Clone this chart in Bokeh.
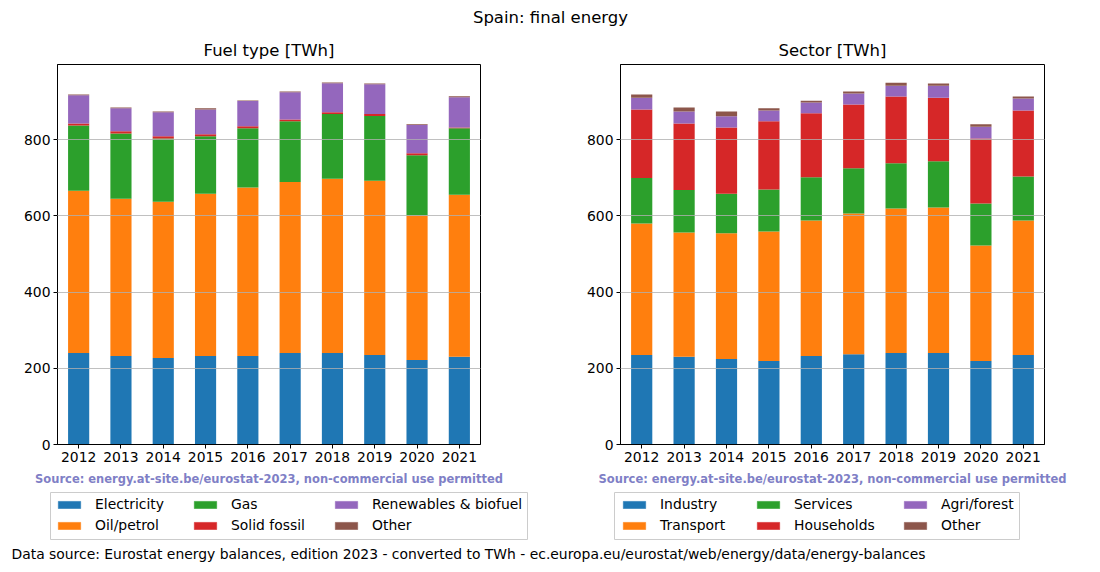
from bokeh.plotting import figure
from bokeh.models import (ColumnDataSource, FactorRange, Range1d, FixedTicker, Legend,
                          LegendItem, Label)
from bokeh.layouts import column, row
from bokeh.embed import file_html
from bokeh.resources import INLINE

years = ["2012", "2013", "2014", "2015", "2016", "2017", "2018", "2019", "2020", "2021"]

# Fuel type [TWh]
fuel_names = ["Electricity", "Oil/petrol", "Gas", "Solid fossil", "Renewables & biofuel", "Other"]
electricity = [240, 232, 227, 232, 232, 240, 240, 235, 222, 230]
oil_petrol = [426, 413, 410, 426, 442, 449, 457, 457, 379, 425]
gas = [171, 171, 166, 151, 156, 159, 170, 170, 158, 175]
solid_fossil = [5.5, 6, 6, 5, 5, 5, 5, 5, 5, 2]
renewables = [73.5, 60, 63, 65, 66, 71, 76, 78, 74, 79]
fuel_other = [2, 2, 2, 3, 1.5, 2, 1.5, 2, 2, 3]

# Sector [TWh]
sector_names = ["Industry", "Transport", "Services", "Households", "Agri/forest", "Other"]
industry = [235, 230, 224, 219, 232, 237, 240, 240, 219, 235]
transport = [345, 326, 330, 340, 356, 369, 379, 382, 303, 353]
services = [119, 112, 104, 110, 113, 119, 119, 121, 110, 115]
households = [180, 174, 174, 179, 168, 167, 175, 167, 171, 173]
agri_forest = [31, 32, 29, 28, 28, 29, 28, 31, 31, 32]
sector_other = [8, 10, 13, 6, 5, 5, 8, 6, 6, 5]

y_ticks = [0, 200, 400, 600, 800]

COLORS = ["#1f77b4", "#ff7f0e", "#2ca02c", "#d62728", "#9467bd", "#8c564b"]
FONT = "DejaVu Sans"
FRAME_H = 380
SOURCE_TXT = "Source: energy.at-site.be/eurostat-2023, non-commercial use permitted"


def make_panel(series, border_left, frame_w, border_right):
    keys = ["s%d" % i for i in range(len(series))]
    data = {"year": years}
    for k, s in zip(keys, series):
        data[k] = s
    source = ColumnDataSource(data)
    p = figure(x_range=FactorRange(*years, range_padding=0), y_range=Range1d(0, 997),
               frame_width=frame_w, frame_height=FRAME_H,
               min_border_left=border_left, min_border_right=border_right,
               min_border_top=4, min_border_bottom=28,
               output_backend="svg", toolbar_location=None)
    p.vbar_stack(keys, x="year", width=0.5, source=source,
                 fill_color=COLORS, line_color=None)
    p.background_fill_color = "white"
    p.border_fill_color = "white"
    p.outline_line_color = "black"
    p.outline_line_width = 1
    p.outline_line_alpha = 1
    p.xgrid.visible = False
    p.ygrid.grid_line_color = "#b0b0b0"
    p.ygrid.grid_line_width = 0.8
    p.ygrid.level = "overlay"
    p.yaxis.ticker = FixedTicker(ticks=y_ticks)
    for ax in (p.xaxis[0], p.yaxis[0]):
        ax.axis_line_color = "black"
        ax.major_tick_line_color = "black"
        ax.major_tick_out = 4
        ax.major_tick_in = 0
        ax.minor_tick_line_color = None
        ax.major_label_text_font = FONT
        ax.major_label_text_font_size = "13.9px"
        ax.major_label_text_color = "black"
        ax.major_label_standoff = 3
    return p


p1 = make_panel([electricity, oil_petrol, gas, solid_fossil, renewables, fuel_other],
                57, 423, 60)
p2 = make_panel([industry, transport, services, households, agri_forest, sector_other],
                80, 424, 52)

STRIP_W = 1096


def strip(h):
    # ranges in pixels so that decorations can be placed by page position
    f = figure(width=STRIP_W, height=h, x_range=Range1d(0, STRIP_W), y_range=Range1d(0, h),
               x_axis_type=None, y_axis_type=None, min_border=0,
               output_backend="svg", toolbar_location=None)
    f.outline_line_color = None
    f.grid.visible = False
    return f


def add_text(f, text, x, y, align="center", size="13.9px", bold=False, color="black"):
    f.add_layout(Label(x=x, y=y, x_units="screen", y_units="screen", text=text,
                       text_align=align, text_baseline="middle", text_font=FONT,
                       text_font_size=size, text_font_style="bold" if bold else "normal",
                       text_color=color))


# header: page y 0..60
HEADER_H = 60
header = strip(HEADER_H)
add_text(header, "Spain: final energy", 550, HEADER_H - 17, size="16.5px")
add_text(header, "Fuel type [TWh]", 268.5, HEADER_H - 50, size="16.5px")
add_text(header, "Sector [TWh]", 832, HEADER_H - 50, size="16.5px")

# footer: page y 472..568
FOOT_TOP = 472
FOOT_H = 96
FB = FOOT_TOP + FOOT_H  # page y of the footer's bottom edge
footer = strip(FOOT_H)
add_text(footer, SOURCE_TXT, 268.5, FB - 478, size="11.5px", bold=True, color="#7f7fc6")
add_text(footer, SOURCE_TXT, 832, FB - 478, size="11.5px", bold=True, color="#7f7fc6")
add_text(footer, "Data source: Eurostat energy balances, edition 2023 - converted to TWh - "
                 "ec.europa.eu/eurostat/web/energy/data/energy-balances",
         11, FB - 553, align="left")

# legend frames (page x-extent, y 492..539)
for left, right in ((50, 527), (614, 1019)):
    footer.quad(left=[left], right=[right], top=[FB - 492], bottom=[FB - 539],
                fill_color="white", line_color="#cccccc", line_width=1)

# legends: one per column, as in matplotlib's column layout
for names, col_x in ((fuel_names, (55, 191, 332)), (sector_names, (620, 754, 901))):
    for ci, cx in enumerate(col_x):
        items = []
        for k in range(2):
            idx = ci * 2 + k
            r = footer.vbar(x=[-50], top=[-40], bottom=[-50], width=1,
                            fill_color=COLORS[idx], fill_alpha=1.0,
                            line_color=COLORS[idx], line_alpha=1.0, line_width=0.5)
            items.append(LegendItem(label=names[idx], renderers=[r]))
        legend = Legend(items=items, location=(cx, FB - 533), orientation="vertical",
                        glyph_width=28, glyph_height=9, label_standoff=12, label_width=20,
                        label_height=16, spacing=5, padding=0, margin=0,
                        label_text_font=FONT, label_text_font_size="13.9px",
                        label_text_color="black",
                        border_line_color=None, background_fill_alpha=0)
        footer.add_layout(legend, "center")

layout = column(header, row(p1, p2), footer)
open("out.html", "w").write(file_html(layout, INLINE))
